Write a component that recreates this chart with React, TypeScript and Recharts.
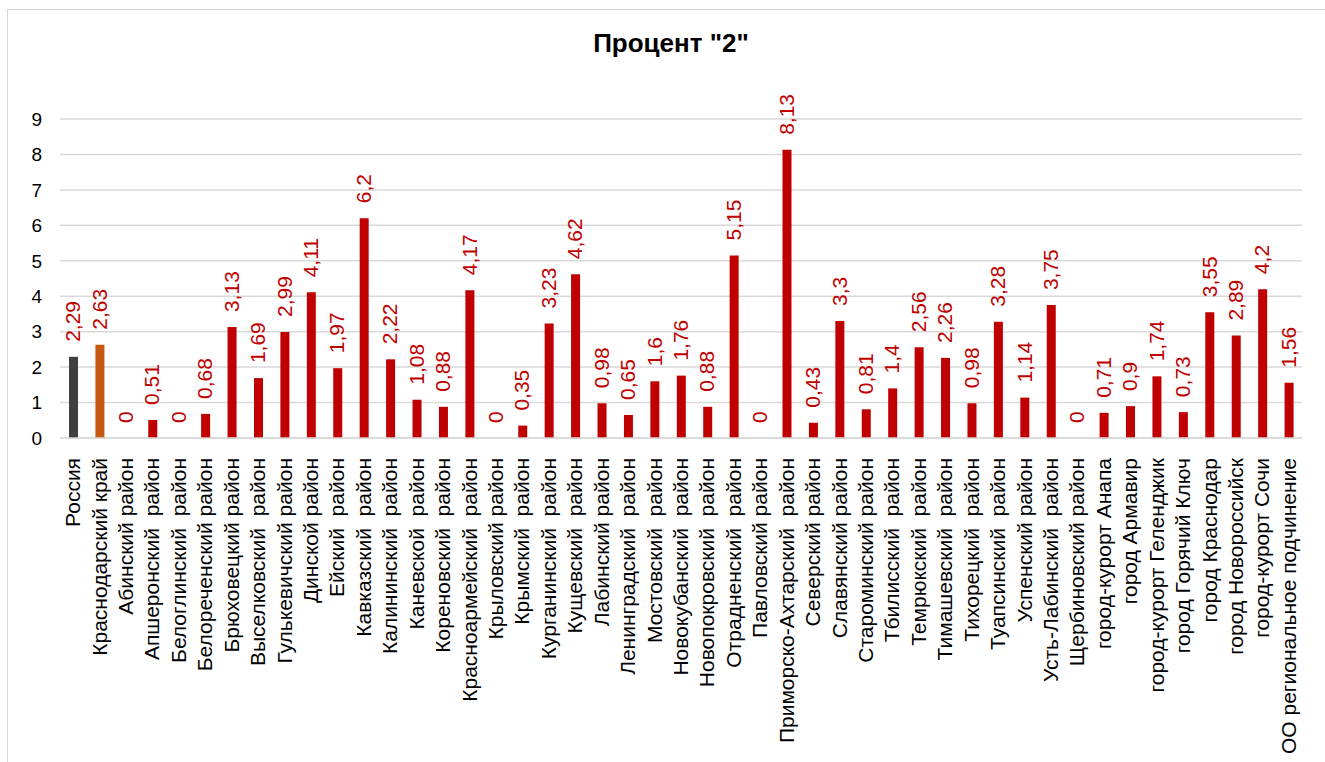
import { ComposedChart, Bar, Line, XAxis, YAxis, CartesianGrid, Cell, LabelList } from 'recharts'

const categories = [
  'Россия',
  'Краснодарский край',
  'Абинский район',
  'Апшеронский  район',
  'Белоглинский  район',
  'Белореченский район',
  'Брюховецкий район',
  'Выселковский  район',
  'Гулькевичский район',
  'Динской район',
  'Ейский  район',
  'Кавказский  район',
  'Калининский  район',
  'Каневской  район',
  'Кореновский  район',
  'Красноармейский  район',
  'Крыловский район',
  'Крымский  район',
  'Курганинский  район',
  'Кущевский  район',
  'Лабинский район',
  'Ленинградский  район',
  'Мостовский  район',
  'Новокубанский  район',
  'Новопокровский  район',
  'Отрадненский  район',
  'Павловский район',
  'Приморско-Ахтарский  район',
  'Северский район',
  'Славянский район',
  'Староминский район',
  'Тбилисский  район',
  'Темрюкский  район',
  'Тимашевский  район',
  'Тихорецкий  район',
  'Туапсинский  район',
  'Успенский район',
  'Усть-Лабинский  район',
  'Щербиновский район',
  'город-курорт Анапа',
  'город Армавир',
  'город-курорт Геленджик',
  'город Горячий Ключ',
  'город Краснодар',
  'город Новороссийск',
  'город-курорт Сочи',
  'ОО региональное подчинение',
]

const percent2 = [
  2.29, 2.63, 0, 0.51, 0, 0.68, 3.13, 1.69, 2.99, 4.11, 1.97, 6.2, 2.22, 1.08, 0.88, 4.17, 0, 0.35, 3.23,
  4.62, 0.98, 0.65, 1.6, 1.76, 0.88, 5.15, 0, 8.13, 0.43, 3.3, 0.81, 1.4, 2.56, 2.26, 0.98, 3.28, 1.14,
  3.75, 0, 0.71, 0.9, 1.74, 0.73, 3.55, 2.89, 4.2, 1.56,
]

const yTicks = [0, 1, 2, 3, 4, 5, 6, 7, 8, 9]

const data = categories.map((name, i) => ({ name, value: percent2[i] }))

const FONT = '"Liberation Sans", Arial, sans-serif'
const RED = '#c00000'

const barColor = (i: number) => (i === 0 ? '#404040' : i === 1 ? '#c65911' : RED)

const CategoryTick = (props: any) => {
  const { x, y, payload } = props
  const tx = x + 7
  const ty = y
  return (
    <text
      x={tx}
      y={ty}
      transform={`rotate(-90, ${tx}, ${ty})`}
      textAnchor="end"
      fontSize={21}
      fontFamily={FONT}
      fill="#000"
      style={{ whiteSpace: 'pre' }}
    >
      {payload.value}
    </text>
  )
}

// labels hang off an invisible line so the zero values get one too
const ValueLabel = (props: any) => {
  const { x, y, width, value } = props
  const cx = width ? x + width / 2 : x
  const tx = cx + 7
  const ty = y - 15
  return (
    <text
      x={tx}
      y={ty}
      transform={`rotate(-90, ${tx}, ${ty})`}
      textAnchor="start"
      fontSize={21}
      fontFamily={FONT}
      fill={RED}
    >
      {String(value).replace('.', ',')}
    </text>
  )
}

export default function App() {
  return (
    <div
      style={{
        position: 'absolute',
        left: 0,
        top: 0,
        width: 1325,
        height: 762,
        overflow: 'hidden',
        background: '#fff',
      }}
    >
      <div
        style={{
          position: 'absolute',
          left: 7,
          top: 9,
          width: 1340,
          height: 800,
          border: '1px solid #d9d9d9',
          boxSizing: 'border-box',
        }}
      />
      <div
        style={{
          position: 'absolute',
          left: 0,
          width: 1342,
          top: 28,
          textAlign: 'center',
          fontFamily: FONT,
          fontWeight: 'bold',
          fontSize: 26,
          color: '#000',
        }}
      >
        Процент "2"
      </div>
      <div style={{ position: 'absolute', left: 0, top: 0 }}>
        <ComposedChart
          width={1325}
          height={762}
          data={data}
          margin={{ top: 119, right: 23, bottom: 0, left: 0 }}
          barCategoryGap={0}
        >
          <CartesianGrid vertical={false} stroke="#d9d9d9" strokeWidth={1.5} />
          <XAxis
            dataKey="name"
            interval={0}
            tickLine={false}
            axisLine={{ stroke: '#d9d9d9', strokeWidth: 1.5 }}
            height={324}
            tick={<CategoryTick />}
            tickMargin={14}
          />
          <YAxis
            domain={[0, 9]}
            ticks={yTicks}
            interval={0}
            width={60}
            axisLine={false}
            tickLine={false}
            tickSize={0}
            tickMargin={18}
            tick={{ fontSize: 19, fontFamily: FONT, fill: '#000' }}
          />
          <Bar dataKey="value" barSize={9} isAnimationActive={false}>
            {data.map((_, i) => (
              <Cell key={i} fill={barColor(i)} />
            ))}
          </Bar>
          <Line
            dataKey="value"
            stroke="none"
            dot={false}
            activeDot={false}
            legendType="none"
            isAnimationActive={false}
          >
            <LabelList dataKey="value" content={<ValueLabel />} />
          </Line>
        </ComposedChart>
      </div>
    </div>
  )
}
